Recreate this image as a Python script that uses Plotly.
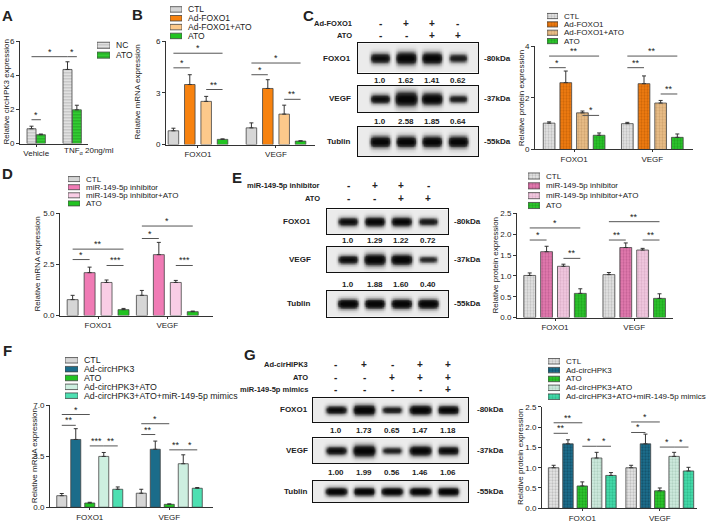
import numpy as np
import plotly.graph_objects as go

W, H = 708, 526
FONT = "Liberation Sans, Arial, sans-serif"
AX = "#333333"
TXT = "#222222"

# ---------------- data ----------------
GROUPS = ["FOXO1", "VEGF"]

A_GROUPS = ["Vehicle", "TNF<sub>α</sub> 20ng/ml"]
A_SERIES = ["NC", "ATO"]
A_MEAN = [[0.87, 4.35], [0.52, 1.98]]
A_SD = [[0.15, 0.45], [0.04, 0.27]]
A_SIG = [(0, 0, 0, 1, 1.4, "*"), (0, 0, 1, 0, 5.1, "*"), (1, 0, 1, 1, 5.1, "*")]

B_SERIES = ["CTL", "Ad-FOXO1", "Ad-FOXO1+ATO", "ATO"]
B_MEAN = [[0.8, 0.97], [3.49, 3.26], [2.51, 1.77], [0.3, 0.2]]
B_SD = [[0.15, 0.29], [0.57, 0.51], [0.29, 0.52], [0.03, 0.02]]
B_SIG = [(0, 0, 0, 1, 4.46, "*"), (0, 0, 0, 3, 5.31, "*"), (0, 2, 0, 3, 3.2, "**"),
         (1, 0, 1, 1, 4.06, "*"), (1, 0, 1, 3, 4.74, "*"), (1, 2, 1, 3, 2.63, "**")]

C_ROW1 = ["-", "+", "+", "-"]
C_ROW2 = ["-", "-", "+", "+"]
C_FOXO1_Q = ["1.0", "1.62", "1.41", "0.62"]
C_VEGF_Q = ["1.0", "2.58", "1.85", "0.64"]
C_TUBLIN = [1.3, 1.3, 1.3, 1.3]
C_MEAN = [[1.02, 1.0], [2.59, 2.55], [1.42, 1.8], [0.55, 0.47]]
C_SD = [[0.05, 0.05], [0.45, 0.3], [0.07, 0.1], [0.09, 0.13]]
C_SIG = [(0, 0, 0, 1, 3.17, "*"), (0, 0, 0, 3, 3.62, "**"), (0, 2, 0, 3, 1.32, "*"),
         (1, 0, 1, 1, 3.17, "**"), (1, 0, 1, 3, 3.62, "**"), (1, 2, 1, 3, 2.15, "**")]

D_SERIES = ["CTL", "miR-149-5p inhibitor", "miR-149-5p inhibitor+ATO", "ATO"]
D_MEAN = [[0.78, 0.99], [2.1, 2.98], [1.62, 1.62], [0.29, 0.19]]
D_SD = [[0.21, 0.24], [0.27, 0.6], [0.12, 0.1], [0.06, 0.03]]
D_SIG = [(0, 0, 0, 1, 2.74, "*"), (0, 0, 0, 3, 3.25, "**"), (0, 2, 0, 3, 2.45, "***"),
         (1, 0, 1, 1, 3.77, "*"), (1, 0, 1, 3, 4.38, "*"), (1, 2, 1, 3, 2.45, "***")]

E_ROW1 = ["-", "+", "+", "-"]
E_ROW2 = ["-", "-", "+", "+"]
E_FOXO1_Q = ["1.0", "1.29", "1.22", "0.72"]
E_VEGF_Q = ["1.0", "1.88", "1.60", "0.40"]
E_TUBLIN = [1.3, 1.3, 1.3, 1.3]
E_MEAN = [[1.01, 1.03], [1.58, 1.68], [1.23, 1.62], [0.58, 0.46]]
E_SD = [[0.06, 0.05], [0.13, 0.11], [0.05, 0.04], [0.11, 0.11]]
E_SIG = [(0, 0, 0, 1, 1.86, "*"), (0, 0, 0, 3, 2.15, "*"), (0, 2, 0, 3, 1.42, "**"),
         (1, 0, 1, 1, 1.86, "**"), (1, 0, 1, 3, 2.3, "**"), (1, 2, 1, 3, 1.86, "**")]

F_SERIES = ["CTL", "Ad-circHPK3", "ATO", "Ad-circHPK3+ATO", "Ad-circHPK3+ATO+miR-149-5p mimics"]
F_MEAN = [[0.79, 0.96], [4.64, 3.97], [0.29, 0.2], [3.48, 2.98], [1.23, 1.3]]
F_SD = [[0.15, 0.27], [0.74, 0.56], [0.05, 0.03], [0.27, 0.61], [0.16, 0.05]]
F_SIG = [(0, 0, 0, 1, 5.61, "**"), (0, 0, 0, 2, 6.35, "*"), (0, 2, 0, 3, 4.2, "***"), (0, 3, 0, 4, 4.2, "**"),
         (1, 0, 1, 1, 4.98, "**"), (1, 0, 1, 2, 5.72, "*"), (1, 2, 1, 3, 3.93, "**"), (1, 3, 1, 4, 3.93, "*")]

G_ROW1 = ["-", "+", "-", "+", "+"]
G_ROW2 = ["-", "-", "+", "+", "+"]
G_ROW3 = ["-", "-", "-", "-", "+"]
G_FOXO1_Q = ["1.0", "1.73", "0.65", "1.47", "1.18"]
G_VEGF_Q = ["1.00", "1.99", "0.56", "1.46", "1.06"]
G_TUBLIN = [1.3, 1.3, 1.3, 1.3, 1.3]
G_MEAN = [[1.0, 1.0], [1.59, 1.59], [0.55, 0.43], [1.24, 1.28], [0.81, 0.92]]
G_SD = [[0.06, 0.06], [0.1, 0.24], [0.1, 0.07], [0.14, 0.1], [0.07, 0.09]]
G_SIG = [(0, 0, 0, 1, 1.85, "**"), (0, 0, 0, 2, 2.11, "**"), (0, 2, 0, 3, 1.53, "*"), (0, 3, 0, 4, 1.53, "*"),
         (1, 0, 1, 1, 1.87, "*"), (1, 0, 1, 2, 2.13, "*"), (1, 2, 1, 3, 1.51, "*"), (1, 3, 1, 4, 1.51, "*")]

# ---------------- styles ----------------
def solid(c):
    return dict(color=c)

def pat(bg, fg, shape=".", size=3, sol=0.45):
    return dict(color=bg, pattern=dict(shape=shape, fgcolor=fg, bgcolor=bg, size=size, solidity=sol))

GRAY = "#d6d6d6"
GREEN = "#22c322"
A_STY = [pat("#eeeeee", "#8a8a8a", "-", 3, 0.5), pat("#36d336", "#0f7a0f", "-", 3, 0.45)]
B_STY = [solid(GRAY), solid("#f7820f"), solid("#fcc98b"), solid(GREEN)]
C_STY = [pat("#e6e6e6", "#9a9a9a"), pat("#f27d12", "#a84f00"), pat("#ecc08a", "#b48a55"), pat("#2dc62d", "#128512")]
D_STY = [solid(GRAY), solid("#f07bb5"), solid("#f9cde5"), solid(GREEN)]
E_STY = [pat("#e6e6e6", "#9a9a9a"), pat("#e57cb0", "#a2467a"), pat("#f4cbe2", "#c493b0"), pat("#2dc62d", "#128512")]
F_STY = [solid(GRAY), solid("#1b6c8a"), solid(GREEN), solid("#cdefe0"), solid("#4ee0b2")]
G_STY = [pat("#e6e6e6", "#9a9a9a"), pat("#1d6e8d", "#0c3e52"), pat("#2dc62d", "#128512"),
         pat("#cfecdf", "#93b8a6"), pat("#45dcab", "#1f9f76")]

# ---------------- helpers ----------------
def xd(a, b):
    return [a / W, b / W]

def yd(top, bottom):
    return [1 - bottom / H, 1 - top / H]

def px(x):
    return x / W

def py(y):
    return 1 - y / H

layout = {}
traces = []
shapes = []
annots = []
ax_n = [0]

def new_axes(xdom, ydom, xa, ya):
    ax_n[0] += 1
    k = ax_n[0]
    s = "" if k == 1 else str(k)
    xa = dict(xa)
    ya = dict(ya)
    xa.update(domain=xdom, anchor="y" + s, fixedrange=True)
    ya.update(domain=ydom, anchor="x" + s, fixedrange=True)
    layout["xaxis" + s] = xa
    layout["yaxis" + s] = ya
    return "x" + s, "y" + s

def text(x, y, t, size=8, bold=False, xanchor="center", yanchor="middle", angle=0, xref="paper", yref="paper"):
    if bold:
        t = "<b>" + t + "</b>"
    annots.append(dict(x=x, y=y, xref=xref, yref=yref, text=t, showarrow=False, xanchor=xanchor,
                       yanchor=yanchor, textangle=angle, font=dict(size=size, color=TXT, family=FONT)))

def marker(st):
    m = dict(color=st["color"], line=dict(color="#444444", width=0.8))
    if "pattern" in st:
        m["pattern"] = st["pattern"]
    return m

def legend(series, styles, box, fsize=8):
    x0, x1, y0, y1 = box
    n = len(series)
    xa = dict(range=[0, 1], visible=False)
    ya = dict(range=[n - 0.5, -0.5], visible=False)
    xr, yr = new_axes(xd(x0, x1), yd(y0, y1), xa, ya)
    for i, (name, st) in enumerate(zip(series, styles)):
        traces.append(go.Bar(x=[1], y=[i], orientation="h", width=0.62, marker=marker(st),
                             xaxis=xr, yaxis=yr, showlegend=False, hoverinfo="skip"))
        text(px(x1 + 4), i, name, size=fsize, xanchor="left", yref=yr)

def bar_panel(groups, series, means, sds, styles, box, yrange, ytick, xrange, step, width, sigs,
              ytitle, tpos, lbox, tickfmt=None, ticktext=None, lfont=8):
    x0, x1, y0, y1 = box
    tt = ticktext or groups
    xa = dict(range=xrange, tickvals=list(range(len(tt))), ticktext=tt,
              showline=True, linecolor=AX, linewidth=1, ticks="outside", ticklen=2, tickcolor=AX,
              showgrid=False, zeroline=False, tickfont=dict(size=8, color=TXT, family=FONT))
    ya = dict(range=yrange, tickvals=ytick, showline=True, linecolor=AX, linewidth=1, ticks="outside",
              ticklen=3, tickcolor=AX, showgrid=False, zeroline=False,
              tickfont=dict(size=8, color=TXT, family=FONT))
    if tickfmt:
        ya["tickformat"] = tickfmt
    xr, yr = new_axes(xd(x0, x1), yd(y0, y1), xa, ya)
    n = len(series)

    def off(i):
        return (i - (n - 1) / 2) * step

    for i, name in enumerate(series):
        traces.append(go.Bar(
            x=[g + off(i) for g in range(len(groups))], y=means[i], width=width,
            marker=marker(styles[i]), name=name,
            error_y=dict(type="data", array=sds[i], arrayminus=[0] * len(groups), symmetric=False,
                         color=AX, thickness=1, width=2),
            xaxis=xr, yaxis=yr, showlegend=False, hoverinfo="skip"))
    for ga, sa, gb, sb, yv, lab in sigs:
        xa_ = ga + off(sa)
        xb_ = gb + off(sb)
        shapes.append(dict(type="line", xref=xr, yref=yr, x0=xa_, x1=xb_, y0=yv, y1=yv,
                           line=dict(color="#555555", width=1)))
        annots.append(dict(x=(xa_ + xb_) / 2, y=yv, xref=xr, yref=yr, text=lab, showarrow=False,
                           yanchor="bottom", yshift=-2, font=dict(size=9, color=TXT, family=FONT)))
    text(px(tpos[0]), py(tpos[1]), ytitle, size=8, angle=-90)
    legend(series, styles, lbox, lfont)
    return xr, yr

CSCALE = [[0, "#f7f7f7"], [0.3, "#a0a0a0"], [0.6, "#333333"], [1, "#060606"]]

def blot_panel(xbox, xrange, rows, row_label_right, kda_x, quant_y, sign_rows, sign_y, sign_right):
    bx0, bx1 = xbox
    first = None
    for name, kda, yt, yb, vals in rows:
        xa = dict(range=xrange, showline=True, mirror=True, linecolor="#111111", linewidth=1.3,
                  showticklabels=False, ticks="", showgrid=False, zeroline=False)
        ya = dict(range=[0, 1], showline=True, mirror=True, linecolor="#111111", linewidth=1.3,
                  showticklabels=False, ticks="", showgrid=False, zeroline=False)
        xr, yr = new_axes(xd(bx0, bx1), yd(yt, yb), xa, ya)
        if first is None:
            first = xr
        xs = np.linspace(xrange[0], xrange[1], 180)
        ys = np.linspace(0, 1, 40)
        X, Y = np.meshgrid(xs, ys)
        z = np.full_like(X, 0.04)
        for i, v in enumerate(vals):
            amp = min(1.05, 0.5 + 0.42 * v)
            wx = 0.33 + 0.04 * v
            sy = 0.11 + 0.06 * v
            z += amp * np.exp(-((X - i) / wx) ** 6) * np.exp(-((Y - 0.5) / sy) ** 2)
        z = np.clip(z, 0, 1)
        traces.append(go.Heatmap(x=xs, y=ys, z=z, colorscale=CSCALE, zmin=0, zmax=1, showscale=False,
                                 zsmooth="best", xaxis=xr, yaxis=yr, hoverinfo="skip"))
        text(px(row_label_right), py((yt + yb) / 2), name, size=8, bold=True, xanchor="right")
        text(px(kda_x), py((yt + yb) / 2), kda, size=8, bold=True, xanchor="left")
    for (labels, y) in zip(quant_y[0], quant_y[1]):
        for i, lab in enumerate(labels):
            text(i, py(y), lab, size=8, bold=True, xref=first)
    for (label, signs), y in zip(sign_rows, sign_y):
        text(px(sign_right), py(y), label, size=7.5, bold=True, xanchor="right")
        for i, s in enumerate(signs):
            text(i, py(y), s, size=10, bold=True, xref=first)

def as_float(lst):
    return [float(v) for v in lst]

# ---------------- panels ----------------
# A
bar_panel(A_GROUPS, A_SERIES, A_MEAN, A_SD, A_STY, (20, 88, 38, 142), [0, 6], [0, 2, 4, 6],
          [-0.45, 1.44], 0.26, 0.25, A_SIG, "Relative circHPK3 expression", (6, 90), (97, 110, 37, 57),
          ticktext=[A_GROUPS[0]], lfont=8.5)
text(px(62), py(150), A_GROUPS[1], size=8, xanchor="left")

# B
bar_panel(GROUPS, B_SERIES, B_MEAN, B_SD, B_STY, (166, 315, 38, 143), [0, 6], [0, 3, 6],
          [-0.41, 1.5], 0.21, 0.135, B_SIG, "Relative mRNA expression", (137, 90), (170, 182, 1, 37),
          lfont=8.5)

# C blot
blot_panel((358, 478), [-0.85, 3.77],
           [("FOXO1", "-80kDa", 40, 70, as_float(C_FOXO1_Q)),
            ("VEGF", "-37kDa", 83, 110, as_float(C_VEGF_Q)),
            ("Tublin", "-55kDa", 125, 155, C_TUBLIN)],
           353, 482, ([C_FOXO1_Q, C_VEGF_Q], [78, 120]),
           [("Ad-FOXO1", C_ROW1), ("ATO", C_ROW2)], [20, 32], 354)
# C bars
bar_panel(GROUPS, B_SERIES, C_MEAN, C_SD, C_STY, (535, 693, 43, 148), [0, 4], [0, 2, 4],
          [-0.5, 1.52], 0.213, 0.15, C_SIG, "Relative protein expression", (521, 96), (547, 558, 8, 42),
          lfont=8)

# D
bar_panel(GROUPS, D_SERIES, D_MEAN, D_SD, D_STY, (60, 213, 213, 317), [0, 5], [0, 2.5, 5],
          [-0.55, 1.66], 0.245, 0.158, D_SIG, "Relative mRNA expression", (37, 265), (68, 80, 174, 207),
          tickfmt=".1f")

# E blot
blot_panel((327, 448), [-0.79, 3.75],
           [("FOXO1", "-80kDa", 209, 234, as_float(E_FOXO1_Q)),
            ("VEGF", "-37kDa", 247, 273, as_float(E_VEGF_Q)),
            ("Tublin", "-55kDa", 292, 318, E_TUBLIN)],
           313, 452, ([E_FOXO1_Q, E_VEGF_Q], [241, 285]),
           [("miR-149-5p inhibitor", E_ROW1), ("ATO", E_ROW2)], [185, 198], 322)
# E bars
bar_panel(GROUPS, D_SERIES, E_MEAN, E_SD, E_STY, (517, 673, 213, 319), [0, 2.5], [0, 0.5, 1, 1.5, 2, 2.5],
          [-0.48, 1.49], 0.213, 0.15, E_SIG, "Relative protein expression", (495, 266), (528, 540, 170, 210),
          tickfmt=".1f")

# F
bar_panel(GROUPS, F_SERIES, F_MEAN, F_SD, F_STY, (50, 213, 408, 512), [0, 7], [0, 3.5, 7],
          [-0.5, 1.55], 0.176, 0.126, F_SIG, "Relative mRNA expression", (34, 460), (65, 78, 358, 403),
          tickfmt=".1f", lfont=8.8)

# G blot
blot_panel((313, 468), [-0.82, 4.71],
           [("FOXO1", "-80kDa", 401, 425, as_float(G_FOXO1_Q)),
            ("VEGF", "-37kDa", 442, 467, as_float(G_VEGF_Q)),
            ("Tublin", "-55kDa", 485, 507, G_TUBLIN)],
           310, 475, ([G_FOXO1_Q, G_VEGF_Q], [434, 477]),
           [("Ad-cirHIPK3", G_ROW1), ("ATO", G_ROW2), ("miR-149-5p mimics", G_ROW3)], [367, 380, 392], 310)
# G bars
bar_panel(GROUPS, F_SERIES, G_MEAN, G_SD, G_STY, (542, 697, 410, 513), [0, 2.5], [0, 0.5, 1, 1.5, 2, 2.5],
          [-0.52, 1.48], 0.185, 0.135, G_SIG, "Relative protein expression", (520, 461), (548, 560, 359, 404),
          tickfmt=".1f")

# panel letters
for letter, (lx, ly) in zip("ABCDEFG", [(7, 12), (137, 11), (308, 12), (7, 172), (237, 177), (7, 353), (250, 357)]):
    text(px(lx), py(ly), letter, size=15, bold=True)

fig = go.Figure(data=traces)
fig.update_layout(**layout)
fig.update_layout(width=W, height=H, margin=dict(l=0, r=0, t=0, b=0), barmode="overlay",
                  paper_bgcolor="white", plot_bgcolor="rgba(0,0,0,0)", showlegend=False,
                  font=dict(family=FONT, size=8, color=TXT), shapes=shapes, annotations=annots)
fig.write_html("out.html", config={"displayModeBar": False},
               post_script="document.body.style.margin='0';document.body.style.padding='0';")
